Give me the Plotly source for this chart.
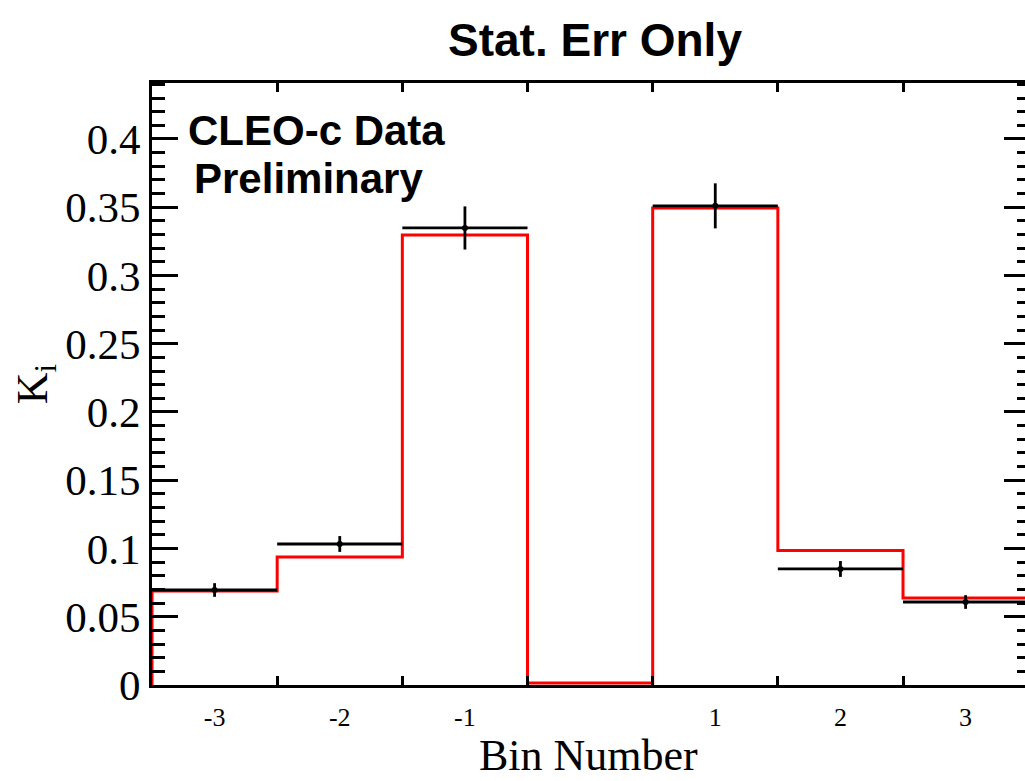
import plotly.graph_objects as go

# ---- data ----
bins = [-3, -2, -1, 0, 1, 2, 3]
model = [0.0689, 0.0938, 0.3297, 0.0015, 0.3495, 0.0985, 0.0637]   # red histogram
data_bins = [-3, -2, -1, 1, 2, 3]
data_vals = [0.0696, 0.1033, 0.3348, 0.3510, 0.0850, 0.0608]
data_errs = [0.0050, 0.0058, 0.0158, 0.0165, 0.0058, 0.0050]
tick_labels = ["-3", "-2", "-1", "1", "2", "3"]

half = 0.5
edges = [b - half for b in bins] + [bins[-1] + half]
step_x = [edges[0]] + edges
step_y = [0] + model + [model[-1]]

W, H = 1025, 781
L, R, T, B = 152, 0, 83, 96
xmin = edges[0]
bin_px = 125.17
xmax = xmin + (W - L - R) / bin_px
ymax = 0.441
PH = H - T - B
PW = W - L - R

serif = "Liberation Serif, Times New Roman, serif"
sans = "Liberation Sans, Arial, Helvetica, sans-serif"

fig = go.Figure()
fig.add_trace(go.Scatter(x=step_x, y=step_y, mode="lines", line_shape="hv",
                         line=dict(color="#ff0000", width=3), showlegend=False,
                         cliponaxis=True))
fig.add_trace(go.Scatter(x=data_bins, y=data_vals, mode="markers",
                         marker=dict(color="black", size=6),
                         error_x=dict(type="constant", value=half, width=0, thickness=2.8, color="black"),
                         error_y=dict(type="data", array=data_errs, width=0, thickness=2.8, color="black"),
                         showlegend=False))
# invisible trace to activate secondary axes
fig.add_trace(go.Scatter(x=[0], y=[0], xaxis="x2", yaxis="y2", mode="markers",
                         marker=dict(opacity=0), showlegend=False, hoverinfo="skip"))

fig.update_layout(
    width=W, height=H,
    margin=dict(l=L, r=R, t=T, b=B, autoexpand=False),
    paper_bgcolor="white", plot_bgcolor="white",
    xaxis=dict(range=[xmin, xmax], tickvals=edges[1:-1], ticks="inside", ticklen=9,
               tickwidth=3, tickcolor="black", showticklabels=False, showline=True,
               linecolor="black", linewidth=3, mirror="ticks", showgrid=False,
               zeroline=False, automargin=False),
    xaxis2=dict(range=[xmin, xmax], overlaying="x", anchor="y", side="bottom",
                tickvals=data_bins, ticktext=tick_labels, ticks="", showline=False,
                showgrid=False, zeroline=False, ticklabelstandoff=14,
                tickfont=dict(family=serif, size=26, color="black"), automargin=False),
    yaxis=dict(range=[0, ymax], dtick=0.05, tick0=0, ticks="inside", ticklen=26,
               tickwidth=3, tickcolor="black", showline=True, linecolor="black",
               linewidth=3, showgrid=False, zeroline=False, automargin=False,
               tickfont=dict(family=serif, size=43, color="black"), ticklabelstandoff=0,
               minor=dict(dtick=0.01, ticks="inside", ticklen=13, tickwidth=3, tickcolor="black",
                          showgrid=False),
               title=dict(text="K<sub>i</sub>", font=dict(family=serif, size=44, color="black"),
                          standoff=4)),
    yaxis2=dict(range=[0, ymax], overlaying="y", anchor="x", side="right", dtick=0.05, tick0=0,
                ticks="inside", ticklen=21, tickwidth=3, tickcolor="black", showline=False,
                showgrid=False, zeroline=False, showticklabels=False, automargin=False,
                minor=dict(dtick=0.01, ticks="inside", ticklen=8, tickwidth=3, tickcolor="black",
                           showgrid=False)),
    annotations=[
        dict(text="Bin Number", xref="paper", yref="paper",
             x=(588 - L) / PW, y=-(755 - (H - B)) / PH,
             xanchor="center", yanchor="middle", showarrow=False,
             font=dict(family=serif, size=44, color="black")),
        dict(text="<b>Stat. Err Only</b>", xref="paper", yref="paper",
             x=(595 - L) / PW, y=1 + (T - 40) / PH,
             xanchor="center", yanchor="middle", showarrow=False,
             font=dict(family=sans, size=46, color="black")),
        dict(text="<b>CLEO-c Data</b>", xref="paper", yref="paper",
             x=(316 - L) / PW, y=1 - (131 - T) / PH,
             xanchor="center", yanchor="middle", showarrow=False,
             font=dict(family=sans, size=42, color="black")),
        dict(text="<b>Preliminary</b>", xref="paper", yref="paper",
             x=(308 - L) / PW, y=1 - (178 - T) / PH,
             xanchor="center", yanchor="middle", showarrow=False,
             font=dict(family=sans, size=42, color="black")),
    ],
)

fig.write_html("out.html")
